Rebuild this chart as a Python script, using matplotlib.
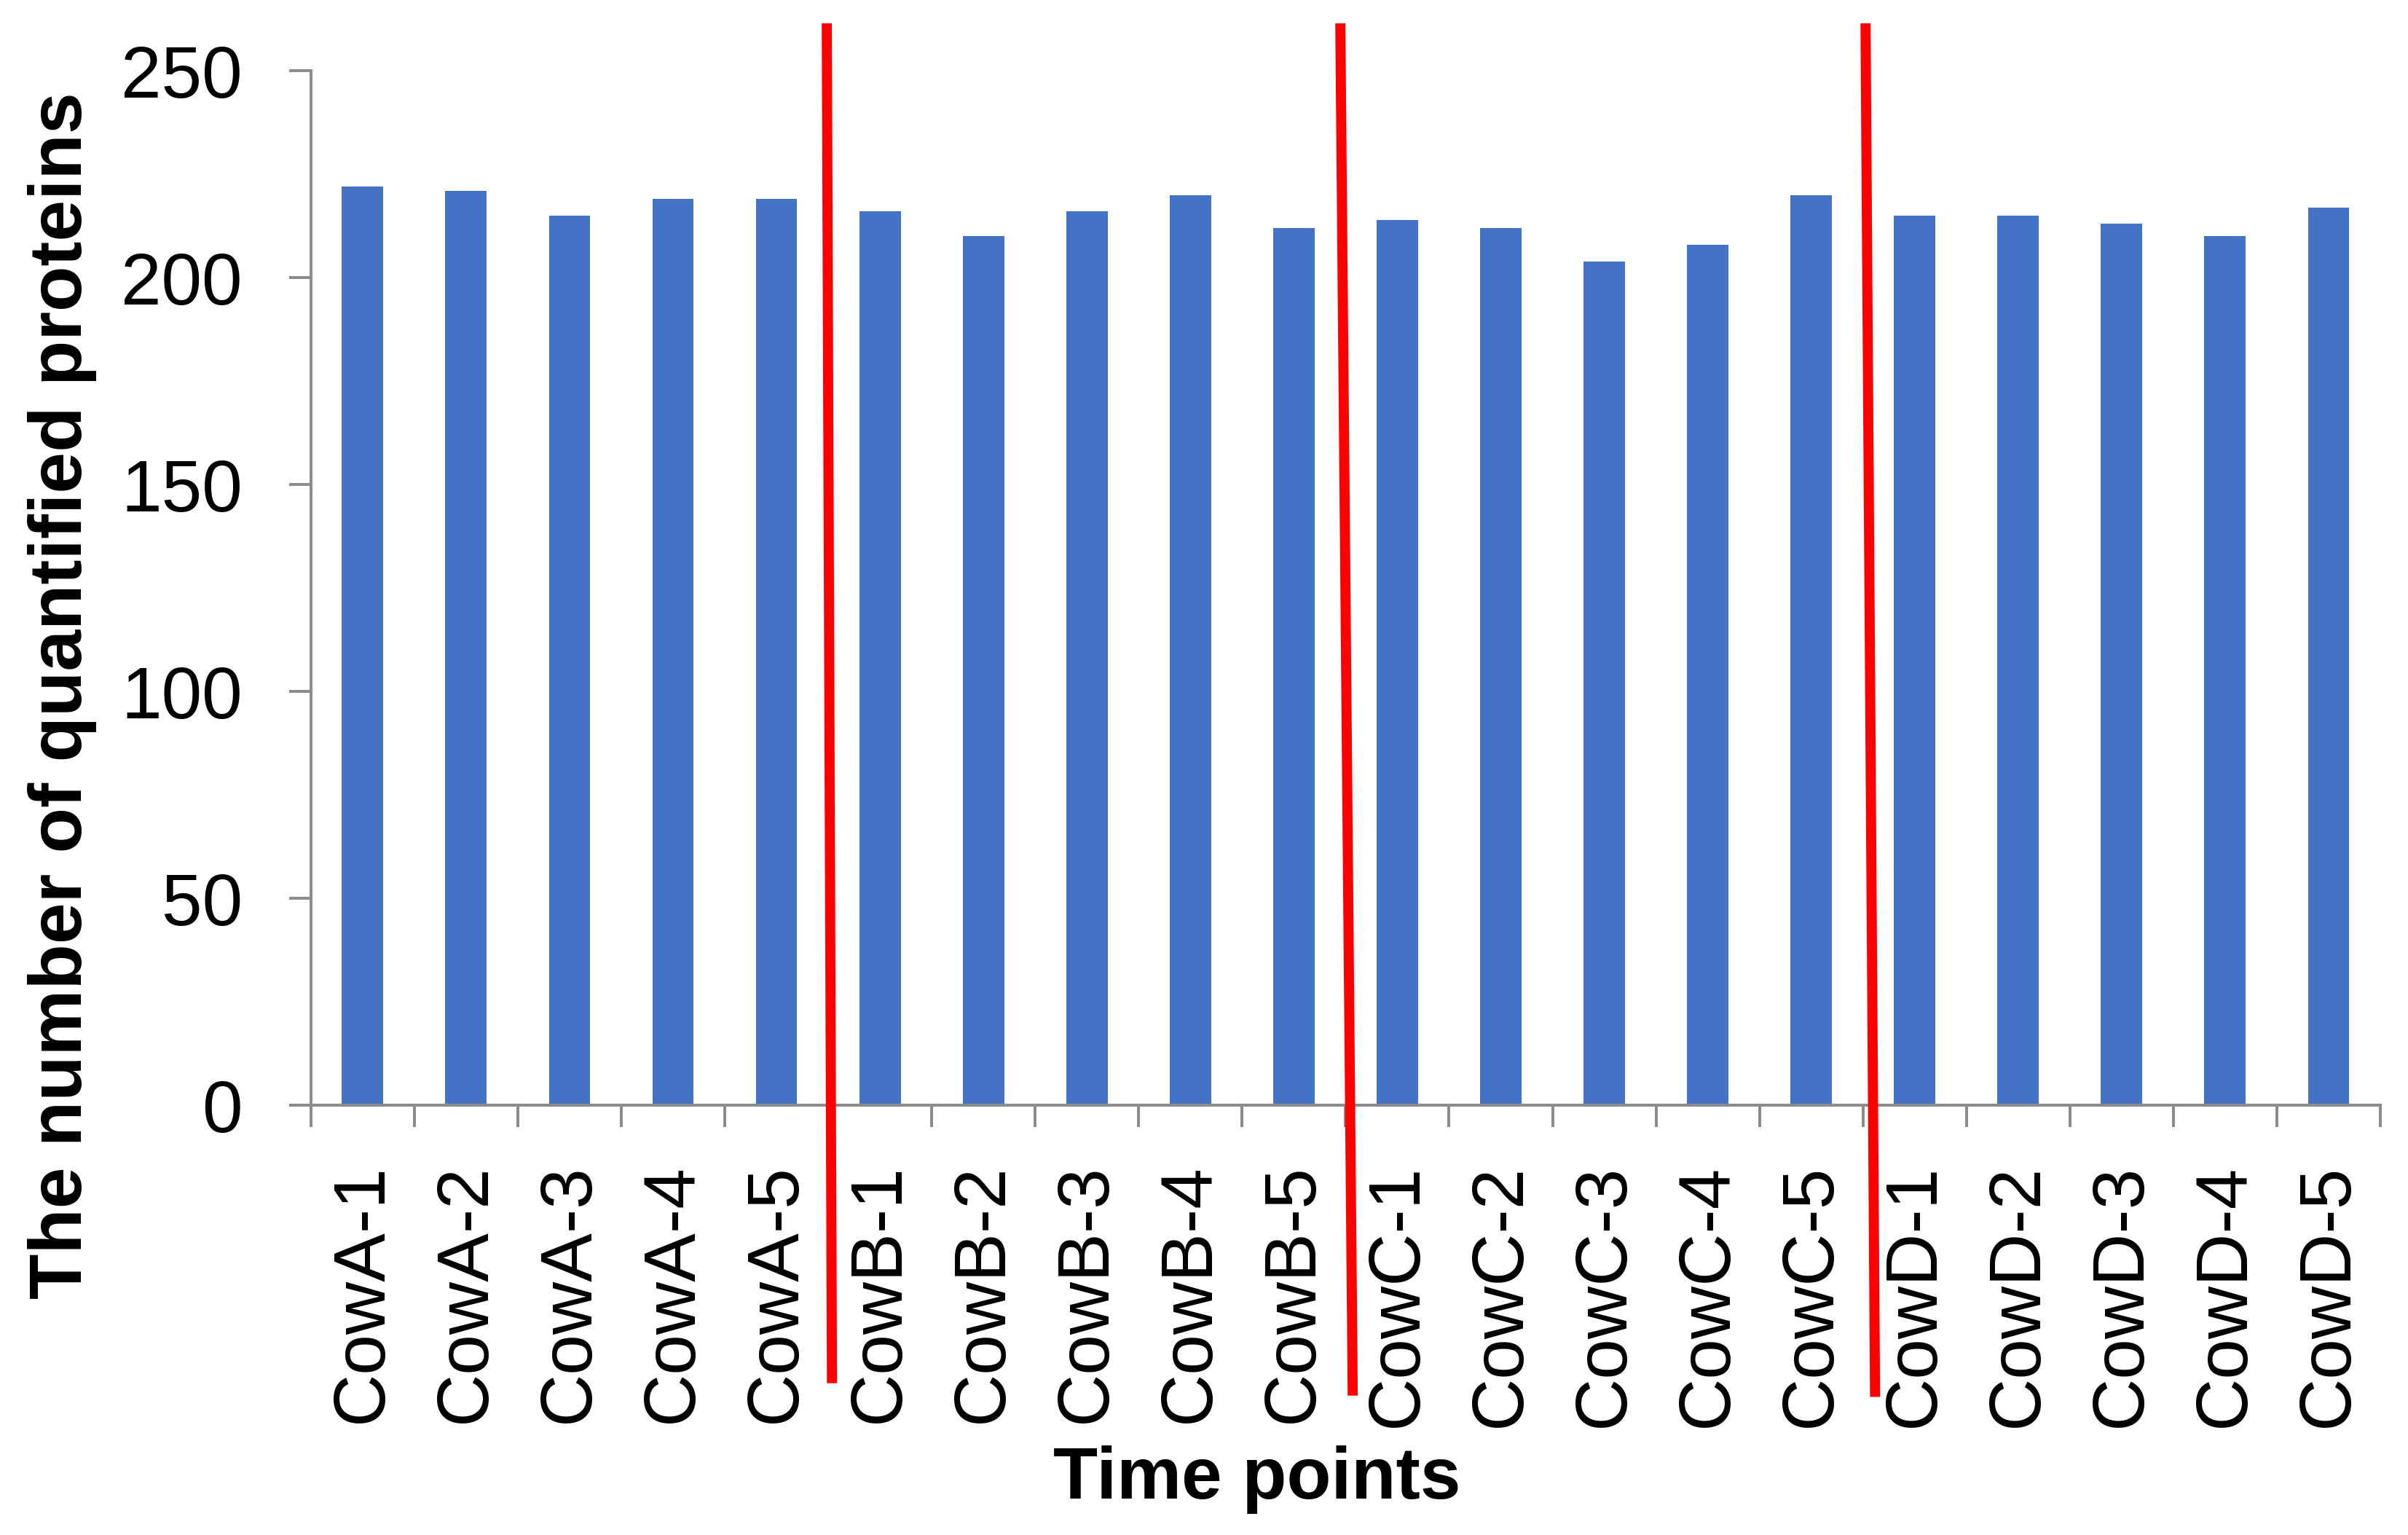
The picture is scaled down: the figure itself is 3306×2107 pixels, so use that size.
import matplotlib
matplotlib.use('Agg')
import matplotlib.pyplot as plt
import numpy as np

# samples and quantified protein counts
samples = ['CowA-1', 'CowA-2', 'CowA-3', 'CowA-4', 'CowA-5',
           'CowB-1', 'CowB-2', 'CowB-3', 'CowB-4', 'CowB-5',
           'CowC-1', 'CowC-2', 'CowC-3', 'CowC-4', 'CowC-5',
           'CowD-1', 'CowD-2', 'CowD-3', 'CowD-4', 'CowD-5']
proteins = [222, 221, 215, 219, 219,
            216, 210, 216, 220, 212,
            214, 212, 204, 208, 220,
            215, 215, 213, 210, 217]
y_ticks = [0, 50, 100, 150, 200, 250]

# hand-drawn red separators between cows (category units, top/bottom)
sep_top_x = [4.486, 9.449, 14.525]
sep_bot_x = [4.536, 9.569, 14.617]
sep_top_y = 261.5
sep_bot_y = [-67.2, -70.2, -70.5]

plt.rcParams['font.family'] = ['Liberation Sans', 'DejaVu Sans']

fig = plt.figure(figsize=(33.06, 21.07), dpi=100)
ax = fig.add_axes([0.1291, 0.2800, 0.8594, 0.6738])

x = np.arange(len(samples))
ax.bar(x, proteins, width=0.4, color='#4472C4', zorder=2)

ax.set_xlim(-0.5, len(samples) - 0.5)
ax.set_ylim(0, 250)
ax.set_yticks(y_ticks)
ax.set_yticklabels([str(v) for v in y_ticks], fontsize=72)

ax.set_xticks(x)
ax.set_xticklabels(samples, rotation=90, fontsize=72)
ax.set_xticks(np.arange(len(samples) + 1) - 0.5, minor=True)
ax.tick_params(axis='x', which='major', length=0, pad=58)
ax.tick_params(axis='x', which='minor', length=21.6, width=2.9,
               color='#8c8c8c', direction='out')
ax.tick_params(axis='y', length=21.6, width=2.9, color='#8c8c8c',
               direction='out', pad=46)

for side in ['top', 'right']:
    ax.spines[side].set_visible(False)
for side in ['left', 'bottom']:
    ax.spines[side].set_color('#8c8c8c')
    ax.spines[side].set_linewidth(2.9)

for xt, xb, yb in zip(sep_top_x, sep_bot_x, sep_bot_y):
    ax.plot([xt, xb], [sep_top_y, yb], color='#FF0000', linewidth=10,
            solid_capstyle='butt', clip_on=False, zorder=5)

fig.text(0.026, 0.547, 'The number of quantified proteins', rotation=90,
         ha='center', va='center', fontsize=73.5, fontweight='bold')
fig.text(0.522, 0.036, 'Time points', ha='center', va='center',
         fontsize=72, fontweight='bold')

fig.savefig('out.png', dpi=100)
